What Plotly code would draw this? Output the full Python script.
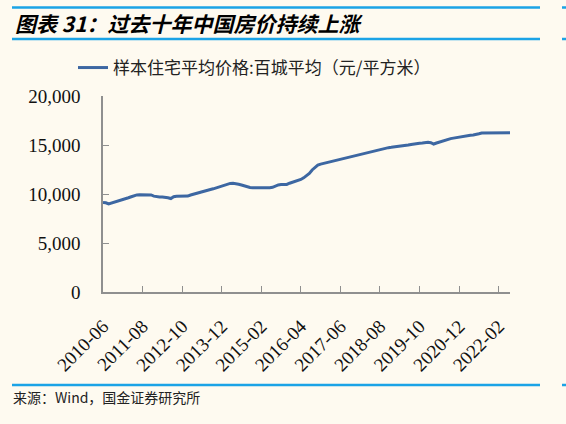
import plotly.graph_objects as go

# monthly sample: 2010-06 .. 2022-10
start_year, start_month = 2010, 6
price = [
    9130, 9100, 8980, 9060, 9150, 9250, 9380, 9460, 9540, 9620, 9720, 9850,
    9910, 9920, 9930, 9930, 9920, 9900, 9780, 9710, 9700, 9700, 9690, 9620,
    9540, 9720, 9770, 9770, 9770, 9780, 9790, 9900, 9990, 10060, 10150, 10230,
    10300, 10380, 10460, 10530, 10620, 10760, 10870, 10960, 11040, 11080, 11090, 11080,
    11000, 10920, 10820, 10720, 10660, 10640, 10630, 10630, 10630, 10630, 10630, 10640,
    10680, 10800, 10930, 10960, 10970, 10980, 11100, 11180, 11250, 11350, 11480, 11650,
    11850, 12100, 12450, 12700, 12950, 13050, 13120, 13170, 13250, 13320, 13400, 13480,
    13550, 13620, 13700, 13770, 13840, 13900, 13960, 14020, 14070, 14130, 14200, 14280,
    14370, 14460, 14550, 14620, 14700, 14730, 14760, 14790, 14820, 14860, 14900, 14950,
    15000, 15060, 15120, 15160, 15180, 15200, 15260, 15290, 15240, 15100, 15200, 15300,
    15380, 15480, 15600, 15650, 15700, 15760, 15820, 15860, 15910, 15950, 15990, 16020,
    16060, 16150, 16230, 16230, 16240, 16240, 16240, 16240, 16240, 16240, 16240, 16240,
    16240,
]
months = []
for i in range(len(price)):
    m = start_month - 1 + i
    months.append(f"{start_year + m // 12}-{m % 12 + 1:02d}")
tick_labels = months[::14]
y_ticks = [0, 5000, 10000, 15000, 20000]

series_name = "样本住宅平均价格:百城平均（元/平方米）"
title_text = "图表 31：过去十年中国房价持续上涨"
source_text = "来源：Wind，国金证券研究所"

W, H = 566, 424
L, R, T, B = 103, 510, 96, 292
BG = "#FEFAF0"
BLUE = "#1BA3E6"
LINE = "#3D67A2"
AXIS = "#8F8F8F"


def px(x):
    return (x - L) / (R - L)


def py(y):
    return (B - y) / (B - T)


fig = go.Figure()
fig.add_trace(go.Scatter(
    x=months, y=price, mode="lines", name=series_name,
    line=dict(color=LINE, width=3),
))

fig.update_layout(
    width=W, height=H,
    margin=dict(l=L, r=W - R, t=T, b=H - B),
    paper_bgcolor=BG, plot_bgcolor=BG,
    showlegend=True,
    legend=dict(
        x=px(73), y=py(68), xanchor="left", yanchor="middle",
        orientation="h", bgcolor="rgba(0,0,0,0)",
        font=dict(family="Noto Sans CJK SC", size=17, color="#222222"),
    ),
    xaxis=dict(
        type="category", range=[0, len(price) - 1],
        tickmode="array", tickvals=tick_labels, ticktext=tick_labels,
        tickangle=-45, ticks="inside", ticklen=6, tickcolor=AXIS,
        showline=True, linecolor=AXIS, linewidth=1.5, showgrid=False,
        ticklabelstandoff=14,
        tickfont=dict(family="Liberation Serif", size=19, color="#111111"),
    ),
    yaxis=dict(
        range=[0, 20000], tickvals=y_ticks, tickformat=",",
        ticks="inside", ticklen=6, tickcolor=AXIS,
        showline=True, linecolor=AXIS, linewidth=1.5, showgrid=False,
        zeroline=False, ticklabelstandoff=17,
        tickfont=dict(family="Liberation Serif", size=19, color="#111111"),
    ),
)

# header / footer rules
for y0 in (7.5, 39, 385):
    fig.add_shape(type="line", xref="paper", yref="paper",
                  x0=px(12), x1=px(540), y0=py(y0), y1=py(y0),
                  line=dict(color=BLUE, width=2.5))
    fig.add_shape(type="line", xref="paper", yref="paper",
                  x0=px(562), x1=px(566), y0=py(y0), y1=py(y0),
                  line=dict(color=BLUE, width=2.5))

fig.add_annotation(
    text=f"<b><i>{title_text}</i></b>", xref="paper", yref="paper",
    x=px(13), y=py(23), xanchor="left", yanchor="middle", showarrow=False,
    font=dict(family="Noto Sans CJK SC", size=21, color="#000000"),
)
fig.add_annotation(
    text=source_text, xref="paper", yref="paper",
    x=px(11), y=py(397), xanchor="left", yanchor="middle", showarrow=False,
    font=dict(family="Noto Sans CJK SC", size=14, color="#222222"),
)

fig.write_html("out.html", config={"displayModeBar": False},
               post_script="document.body.style.margin='0';")
